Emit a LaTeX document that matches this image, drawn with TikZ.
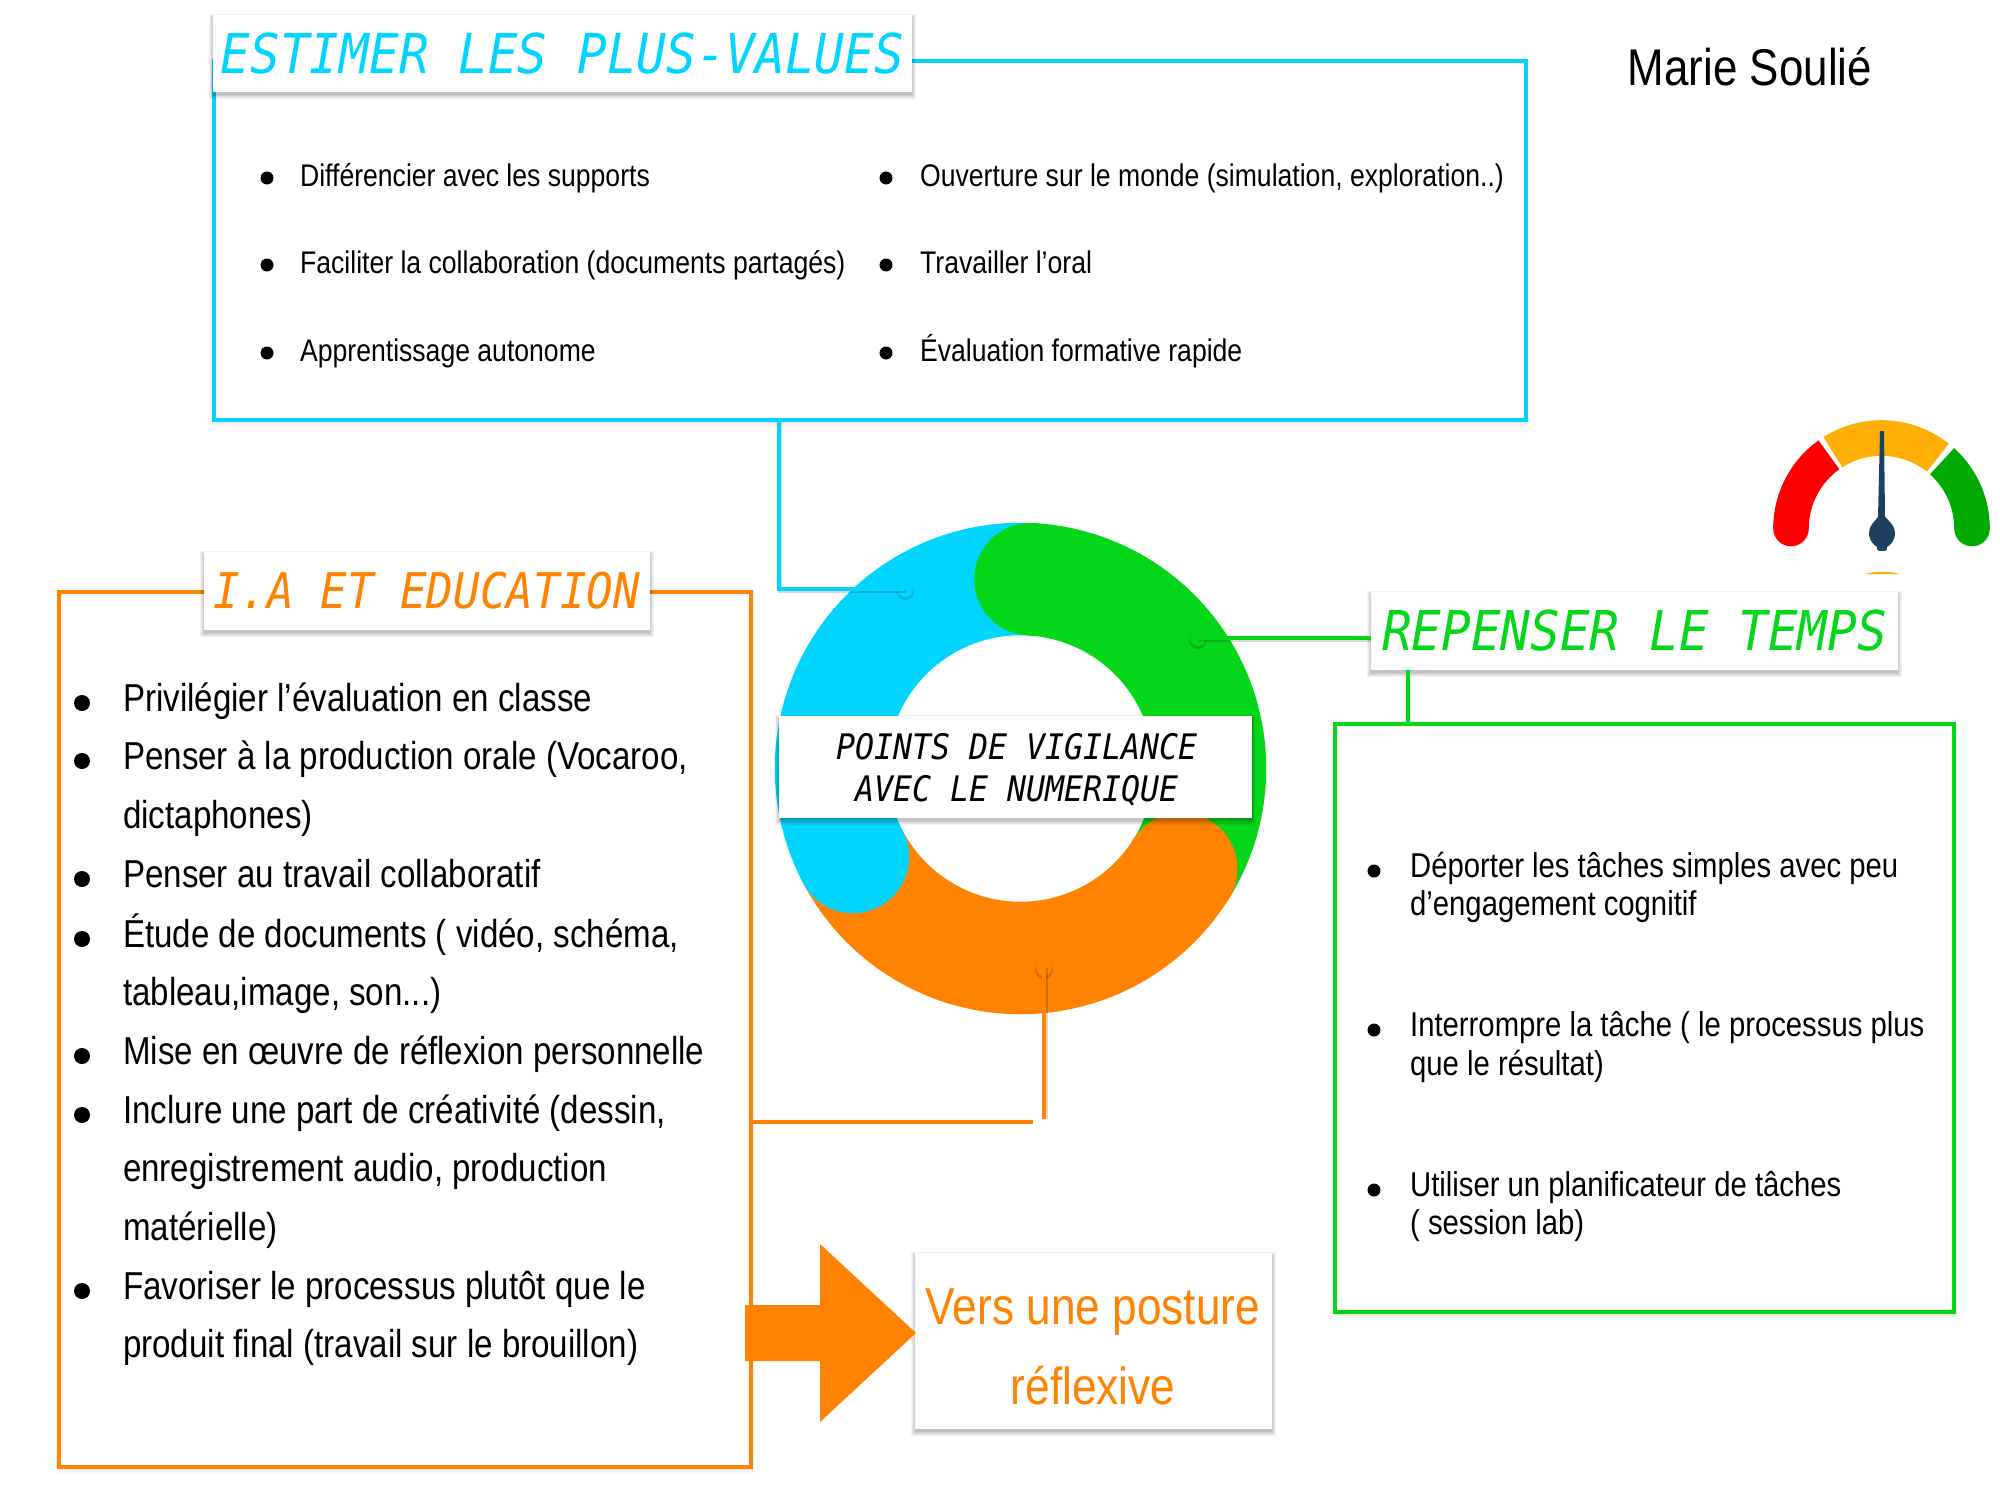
\documentclass[tikz,border=0pt]{standalone}
\usepackage{fontspec}
\setmainfont{Liberation Sans}[FakeStretch=0.85]
\newfontfamily\segfont{DejaVu Sans Mono}[FakeStretch=0.9]
\definecolor{cy}{RGB}{0,213,255}
\definecolor{gr}{RGB}{4,214,26}
\definecolor{og}{RGB}{255,130,0}
\definecolor{gred}{RGB}{255,0,0}
\definecolor{gamb}{RGB}{255,175,5}
\definecolor{ggrn}{RGB}{0,170,0}
\definecolor{gnav}{RGB}{31,63,95}
\tikzset{
  framebox/.style={draw=#1,line width=5.5pt,fill=white,inner sep=0pt},
  titlebox/.style={fill=white,inner sep=0pt},
  conn/.style={draw=#1,line width=5.5pt,line cap=butt},
  connsh/.style={draw=black,opacity=.16,line width=5.5pt},
  dotn/.style={circle,fill=#1,minimum size=0.8cm,inner sep=0pt},
  ltxt/.style={anchor=base west,inner sep=0pt,text=black},
  blt/.style={ltxt,font=\fontsize{44.5}{44.5}\selectfont},
  olt/.style={ltxt,font=\fontsize{55.4}{55.4}\selectfont},
  glt/.style={ltxt,font=\fontsize{49}{49}\selectfont},
  segtitle/.style={font=\segfont\itshape\fontsize{78}{78}\selectfont},
}
\newcommand{\softrect}[6]{\foreach \i in {0,1,2,3,4}{\fill[black,opacity=#5] ({#1-\i},{#2-\i+#6}) rectangle ({#3+\i},{#4+\i+#6});}}
\newcommand{\boxn}[7]{\node[#2,minimum width={(#5-#3)*0.05cm},minimum height={(#6-#4)*0.05cm},align=center] (#1) at ({(#3+#5)/2},{(#4+#6)/2}) {#7};}
\newcommand{\ringseg}[3]{\draw[draw=#1,line width=5.625cm,line cap=butt] plot[domain=#2:#3,samples=90,smooth] ({1020.5+189.5*cos(\x)},{768.5-189.5*sin(\x)});}
\newcommand{\ringcap}[2]{\fill[#1] ({1020.5+189.5*cos(#2)},{768.5-189.5*sin(#2)}) circle[radius=56.25];}
\newcommand{\gaugeseg}[3]{\draw[draw=#1,line width=1.78cm,line cap=butt] plot[domain=#2:#3,samples=40,smooth] ({1881.5+90.5*cos(\x)},{528.5-90.5*sin(\x)});}
\begin{document}
\begin{tikzpicture}[x=0.05cm,y=-0.05cm]
\useasboundingbox[fill=white] (0,0) rectangle (2000,1506);
% frames
\softrect{214}{61}{1526}{420}{.015}{3}
\softrect{59}{592}{751}{1467}{.015}{3}
\softrect{1335}{724}{1954}{1312}{.015}{3}
\boxn{bluebox}{framebox=cy}{214}{61}{1526}{420}{}
\boxn{orangebox}{framebox=og}{59}{592}{751}{1467}{}
\boxn{greenbox}{framebox=gr}{1335}{724}{1954}{1312}{}
% ring
\ringseg{gr}{87}{-32}
\ringseg{og}{-32}{-152.2}
\ringcap{og}{-32}
\ringseg{cy}{87}{207.8}
\ringcap{cy}{207.8}
\ringcap{gr}{87}
% connector anchors
\coordinate (bluej) at (779,420);
\fill[black,opacity=.15] (905,591) circle[radius=9];
\fill[black,opacity=.15] (1198,640) circle[radius=9];
\fill[black,opacity=.15] (1044,970) circle[radius=9];
\node[dotn=cy] (bluedot) at (905,589) {};
\node[dotn=gr] (greendot) at (1198,638) {};
\node[dotn=og] (orangedot) at (1044,968) {};
\coordinate (oend) at (1044,1119);
\coordinate (ojoin) at (751,1122);
\coordinate (ojoinb) at (1033,1122);
\coordinate (gja) at (1408,670);
\coordinate (gjb) at (1408,724);
% titles
\softrect{213}{15}{912}{92}{.05}{3}
\softrect{204}{552}{650}{630}{.05}{3}
\softrect{1371}{592}{1898}{670}{.05}{3}
\boxn{bluetitle}{titlebox,text=cy,segtitle}{213}{15}{912}{92}{ESTIMER LES PLUS-VALUES}
\boxn{orangetitle}{titlebox,text=og,segtitle,font=\segfont\itshape\fontsize{70}{70}\selectfont}{204}{552}{650}{630}{I.A ET EDUCATION}
\boxn{greentitle}{titlebox,text=gr,segtitle}{1371}{592}{1898}{670}{REPENSER LE TEMPS}
\draw[connsh] ([shift={(1,2)}]bluej) |- ([shift={(1,2)}]bluedot.center);
\draw[connsh] ([shift={(0,2)}]greendot.center) -- ([shift={(0,2)}]greentitle.west |- greendot.center);
\draw[connsh] ([shift={(2,0)}]orangedot.center) -- ([shift={(2,0)}]oend);
\draw[conn=cy] (bluej) |- (bluedot.center);
\draw[conn=gr] (greendot.center) -- (greentitle.west |- greendot.center);
\draw[conn=gr] (gja) -- (gjb);
\draw[conn=og] (orangedot.center) -- (oend);
\draw[conn=og] (ojoin) -- (ojoinb);
% central band
\softrect{779}{716}{1252}{818}{.05}{3}
\boxn{centerband}{titlebox}{779}{716}{1252}{818}{}
\node[inner sep=0pt,align=center,font=\segfont\itshape\fontsize{50}{60}\selectfont] (centerlabel) at (1017,770) {POINTS DE VIGILANCE\\AVEC LE NUMERIQUE};
% blue list
\foreach \y in {186,273,361}{\fill[black] (267,\y-8) circle[radius=6.5]; \fill[black] (886,\y-8) circle[radius=6.5];}
\node[blt] (b1) at (300,186) {Différencier avec les supports};
\node[blt] (b2) at (300,273) {Faciliter la collaboration (documents partagés)};
\node[blt] (b3) at (300,361) {Apprentissage autonome};
\node[blt] (b4) at (920,186) {Ouverture sur le monde (simulation, exploration..)};
\node[blt] (b5) at (920,273) {Travailler l’oral};
\node[blt] (b6) at (920,361) {Évaluation formative rapide};
% orange list
\foreach \y in {698,756,874,934,1051,1110,1286}{\fill[black] (82,\y+5) circle[radius=8];}
\node[olt] (o1) at (123,711) {Privilégier l’évaluation en classe};
\node[olt] (o2) at (123,769) {Penser à la production orale (Vocaroo,};
\node[olt] (o3) at (123,828) {dictaphones)};
\node[olt] (o4) at (123,887) {Penser au travail collaboratif};
\node[olt] (o5) at (123,947) {Étude de documents ( vidéo, schéma,};
\node[olt] (o6) at (123,1005) {tableau,image, son...)};
\node[olt] (o7) at (123,1064) {Mise en œuvre de réflexion personnelle};
\node[olt] (o8) at (123,1123) {Inclure une part de créativité (dessin,};
\node[olt] (o9) at (123,1181) {enregistrement audio, production};
\node[olt] (o10) at (123,1240) {matérielle)};
\node[olt] (o11) at (123,1299) {Favoriser le processus plutôt que le};
\node[olt] (o12) at (123,1357) {produit final (travail sur le brouillon)};
% green list
\foreach \y in {871,1030,1190}{\fill[black] (1374,\y) circle[radius=6.5];}
\node[glt] (g1) at (1410,877) {Déporter les tâches simples avec peu};
\node[glt] (g2) at (1410,915) {d’engagement cognitif};
\node[glt] (g3) at (1410,1036) {Interrompre la tâche ( le processus plus};
\node[glt] (g4) at (1410,1075) {que le résultat)};
\node[glt] (g5) at (1410,1196) {Utiliser un planificateur de tâches};
\node[glt] (g6) at (1410,1234) {( session lab)};
% arrow and target
\softrect{915}{1253}{1272}{1429}{.05}{3}
\boxn{postbox}{titlebox}{915}{1253}{1272}{1429}{}
\node[inner sep=0pt,align=center,text=og,font=\fontsize{74}{113}\selectfont] (postlabel) at (1093,1347) {Vers une posture\\réflexive};
\fill[og] (745,1305) -- (820,1305) -- (820,1244) -- (916,1333) -- (820,1422) -- (820,1361) -- (745,1361) -- cycle;
% author
\node[inner sep=0pt,font=\fontsize{73.5}{73.5}\selectfont] (author) at (1750,67) {Marie Soulié};
% gauge
\gaugeseg{gred}{180}{125.5}
\gaugeseg{gamb}{122.5}{51.5}
\gaugeseg{ggrn}{48}{0}
\fill[gred] (1791,528.5) circle[radius=17.8];
\fill[ggrn] (1972,528.5) circle[radius=17.8];
\fill[gnav] (1880,431) -- (1884,431) -- (1885,517) .. controls (1890,522) and (1895,526) .. (1895,533) .. controls (1895,541) and (1890,545) .. (1887,547) .. controls (1887,551) and (1886,551) .. (1882,551) .. controls (1878,551) and (1877,551) .. (1877,547) .. controls (1874,545) and (1869,541) .. (1869,533) .. controls (1869,526) and (1874,522) .. (1878,517) -- cycle;
\fill[gamb] (1865,574) .. controls (1875,571) and (1890,571) .. (1900,574) -- cycle;
\end{tikzpicture}
\end{document}
